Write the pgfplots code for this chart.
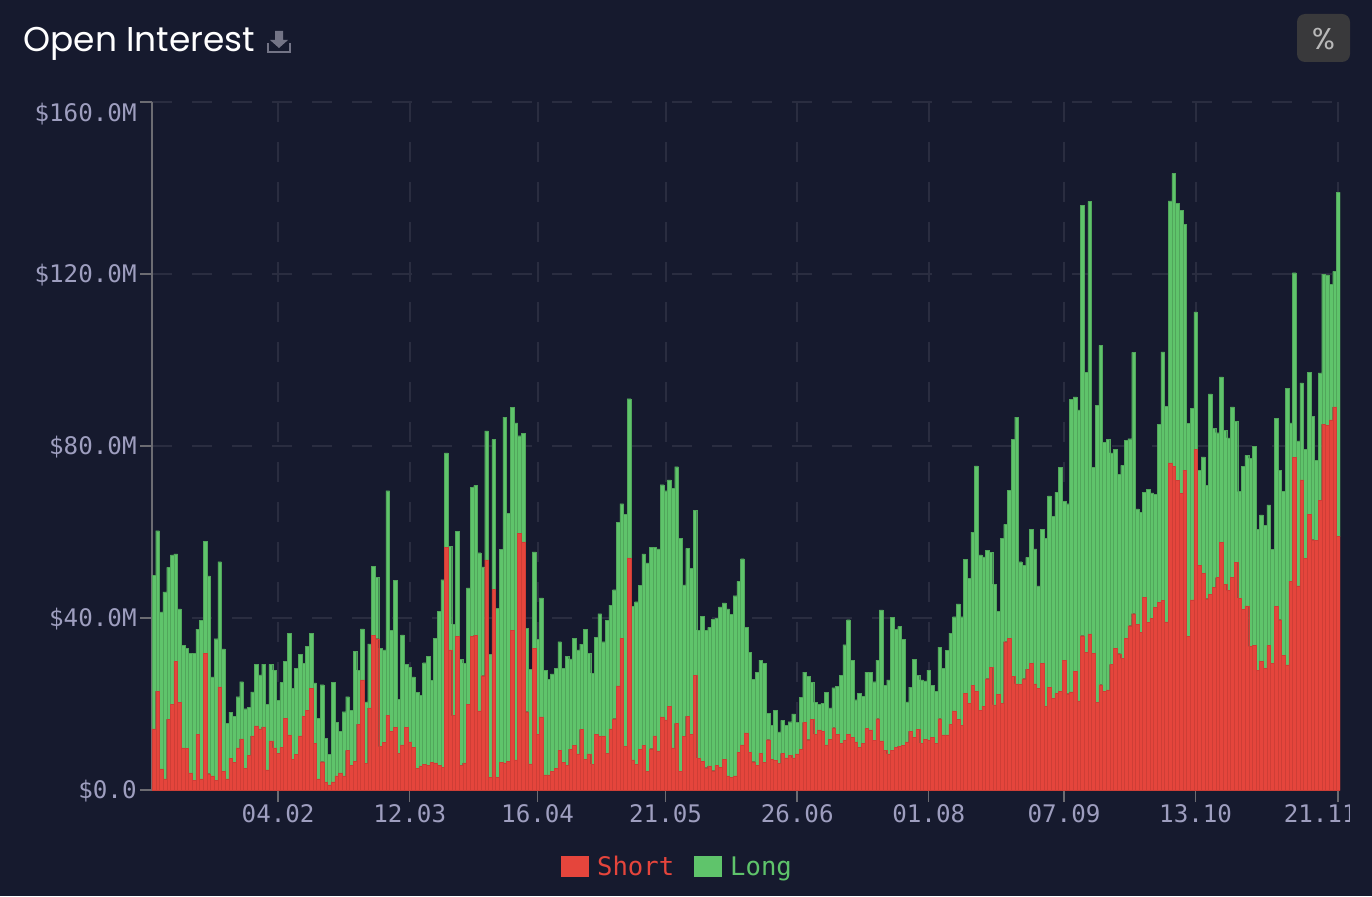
\documentclass[border=0pt]{standalone}
\usepackage{fontspec}
\usepackage{pgfplots}
\usepackage{pgfplotstable}
\pgfplotsset{compat=1.18}
\newfontfamily\monofnt{DejaVu Sans Mono}
\newfontfamily\titlefnt{Poppins}
\definecolor{bg}{HTML}{161A2E}
\definecolor{shortc}{HTML}{E5453C}
\definecolor{longc}{HTML}{5FC46B}
\definecolor{labelc}{HTML}{9E9EBF}
\definecolor{gridc}{HTML}{2A2D40}
\definecolor{axisc}{HTML}{6C6C72}
\definecolor{iconc}{HTML}{737486}
\definecolor{btnc}{HTML}{39393B}
% day index, short, long ($M)
\pgfplotstableread{
i s l
0 14.2 35.7
1 23.0 37.3
2 4.9 36.5
3 2.6 43.5
4 16.5 35.3
5 20.0 34.7
6 30.0 24.9
7 20.4 21.7
8 9.8 23.8
9 9.7 23.3
10 4.0 27.8
11 2.2 29.6
12 12.9 24.5
13 2.6 36.8
14 31.8 26.0
15 3.8 46.0
16 3.3 23.0
17 2.3 32.9
18 24.0 29.1
19 4.4 28.4
20 2.6 12.9
21 7.4 10.7
22 6.5 10.6
23 9.8 11.9
24 11.9 13.3
25 5.0 13.9
26 8.0 11.2
27 12.6 10.2
28 14.9 14.3
29 14.2 12.6
30 14.7 14.6
31 4.7 15.3
32 11.4 17.8
33 9.8 18.1
34 8.5 12.4
35 10.0 15.0
36 16.7 13.3
37 12.8 23.6
38 7.2 16.5
39 8.3 20.0
40 12.6 18.9
41 17.1 12.4
42 18.5 14.9
43 23.7 12.8
44 10.9 14.0
45 2.6 14.1
46 6.6 17.9
47 1.9 10.1
48 1.2 7.1
49 1.9 23.2
50 3.3 12.5
51 4.0 9.6
52 3.3 14.9
53 9.2 12.5
54 5.7 12.9
55 6.7 25.5
56 15.3 12.6
57 25.6 11.9
58 6.2 14.3
59 19.1 14.9
60 36.0 16.0
61 35.2 14.3
62 10.1 22.9
63 11.1 21.5
64 17.4 52.2
65 13.6 23.5
66 14.6 34.2
67 8.5 12.6
68 10.5 25.6
69 14.6 14.6
70 11.2 17.4
71 10.0 16.3
72 5.0 17.7
73 5.6 16.4
74 6.0 23.6
75 5.7 25.4
76 6.4 19.1
77 6.3 29.0
78 5.7 35.9
79 5.3 43.6
80 56.4 22.0
81 32.6 24.1
82 17.3 21.3
83 35.8 24.3
84 5.7 24.7
85 6.3 23.2
86 20.0 27.0
87 35.8 34.6
88 36.0 34.8
89 18.4 36.8
90 26.6 25.3
91 53.5 30.0
92 2.9 28.7
93 46.7 34.8
94 3.0 39.3
95 6.5 49.5
96 6.3 80.4
97 6.7 57.7
98 37.2 51.8
99 7.0 78.4
100 59.7 22.7
101 57.7 25.2
102 18.2 19.4
103 6.1 21.9
104 32.9 22.5
105 12.9 22.2
106 17.0 27.7
107 3.5 24.3
108 3.5 22.2
109 4.4 22.6
110 5.1 23.2
111 9.3 25.2
112 6.4 21.9
113 5.8 25.3
114 9.5 21.0
115 10.4 24.9
116 8.4 24.2
117 14.1 19.8
118 7.2 30.2
119 8.4 23.4
120 6.0 21.2
121 13.0 22.5
122 12.5 28.5
123 12.6 21.9
124 8.6 30.9
125 14.2 28.8
126 16.6 30.0
127 24.2 38.1
128 35.3 31.3
129 10.1 54.0
130 54.0 37.0
131 7.0 35.7
132 6.0 37.8
133 9.4 38.2
134 10.4 44.5
135 4.3 48.5
136 9.6 46.8
137 12.6 43.8
138 9.1 47.0
139 17.0 54.0
140 16.3 53.3
141 19.5 52.6
142 9.8 60.3
143 15.5 59.7
144 4.4 54.1
145 12.5 35.2
146 17.2 39.0
147 12.9 38.6
148 26.7 38.4
149 7.4 29.8
150 6.7 33.7
151 5.2 31.9
152 5.6 32.2
153 4.5 35.2
154 5.7 34.3
155 5.3 37.3
156 7.1 36.4
157 3.3 38.8
158 2.9 38.0
159 3.3 41.9
160 8.8 39.7
161 10.5 43.3
162 13.3 24.6
163 8.8 23.2
164 6.6 19.1
165 5.8 21.6
166 8.6 21.6
167 6.4 23.1
168 11.7 6.2
169 7.1 8.0
170 6.9 11.6
171 6.2 7.3
172 8.5 7.7
173 7.5 7.6
174 8.1 7.8
175 7.5 10.2
176 8.4 7.4
177 9.4 12.2
178 15.7 11.7
179 11.7 14.7
180 16.4 8.7
181 13.0 7.4
182 14.0 5.9
183 13.7 6.5
184 10.5 12.2
185 11.8 7.3
186 14.5 9.3
187 12.9 11.2
188 10.8 15.9
189 11.6 22.2
190 12.9 26.7
191 12.3 17.9
192 11.2 9.8
193 10.0 12.5
194 10.9 10.9
195 14.3 13.1
196 14.0 13.3
197 11.6 13.6
198 16.6 13.6
199 11.4 30.5
200 9.3 15.0
201 8.4 17.2
202 9.3 30.9
203 9.9 27.5
204 10.2 27.8
205 10.4 24.7
206 11.2 9.3
207 13.7 10.2
208 12.3 18.1
209 14.1 12.6
210 10.9 14.7
211 11.8 13.6
212 11.5 16.4
213 12.2 12.2
214 10.8 12.2
215 16.6 16.6
216 12.8 15.5
217 12.8 19.7
218 15.3 21.2
219 18.4 21.9
220 16.4 26.9
221 15.0 25.3
222 22.5 31.2
223 20.1 29.1
224 24.4 35.6
225 22.9 52.5
226 18.6 36.1
227 19.5 34.7
228 25.9 29.9
229 28.6 26.7
230 19.8 28.1
231 22.3 19.2
232 20.1 38.4
233 34.5 27.3
234 35.3 34.4
235 26.4 55.1
236 24.7 62.0
237 24.6 28.5
238 25.9 26.4
239 28.1 26.0
240 29.4 31.2
241 24.7 31.4
242 23.6 23.9
243 29.4 31.2
244 19.5 39.1
245 23.9 44.5
246 21.3 42.3
247 22.5 46.7
248 22.9 52.2
249 30.2 37.0
250 22.4 44.2
251 22.8 68.0
252 27.6 63.8
253 20.7 67.7
254 35.9 100.1
255 32.0 65.1
256 36.3 100.6
257 31.8 43.3
258 20.4 69.1
259 24.5 78.9
260 23.0 57.9
261 23.3 58.3
262 29.2 49.2
263 32.9 46.3
264 31.7 41.7
265 30.6 44.9
266 35.3 46.0
267 38.2 43.5
268 41.0 60.8
269 38.5 26.9
270 36.7 27.9
271 44.8 24.4
272 39.0 31.0
273 40.0 29.1
274 42.5 26.2
275 43.6 41.4
276 44.1 57.8
277 39.1 50.2
278 76.1 60.9
279 75.3 68.1
280 72.0 64.5
281 69.0 65.8
282 74.4 57.1
283 35.8 49.5
284 44.2 44.6
285 79.2 32.0
286 52.2 22.2
287 50.4 27.1
288 44.5 26.4
289 45.5 46.6
290 47.1 37.0
291 49.4 33.7
292 57.6 38.5
293 47.8 35.9
294 46.4 35.5
295 49.4 39.7
296 52.9 32.9
297 44.6 24.8
298 42.0 33.3
299 42.8 35.0
300 33.4 43.7
301 33.6 46.4
302 27.9 32.7
303 30.0 34.0
304 28.3 33.3
305 33.6 32.7
306 29.5 26.5
307 42.7 43.8
308 39.6 34.7
309 31.3 38.1
310 29.1 64.3
311 48.6 36.8
312 77.4 42.9
313 47.5 33.7
314 72.1 22.6
315 53.9 25.4
316 64.1 33.0
317 58.2 28.7
318 58.1 18.6
319 67.3 29.7
320 85.1 34.9
321 84.8 35.0
322 86.1 31.5
323 89.1 31.5
324 59.0 80.0
}\oidata
\begin{document}
\begin{tikzpicture}
\useasboundingbox (0,0) rectangle (686pt,448pt);
\fill[bg] (0,0) rectangle (686pt,448pt);
\begin{axis}[
    at={(76pt,53pt)}, anchor=south west,
    scale only axis, width=594pt, height=344pt,
    ybar stacked, bar width=1,
    xmin=-0.5, xmax=324.5, ymin=0, ymax=160,
    axis lines=left,
    axis line style={draw=axisc, line width=0.7pt, -},
    tick style={draw=axisc, line width=0.7pt},
    tick align=outside, major tick length=6pt,
    xtick={34,70,105,140,176,212,249,285,324},
    xticklabels={04.02,12.03,16.04,21.05,26.06,01.08,07.09,13.10,21.11\hspace*{18pt}},
    ytick={0,40,80,120,160},
    yticklabels={\$0.0,\$40.0M,\$80.0M,\$120.0M,\raisebox{-5.5pt}[0pt][0pt]{\$160.0M}},
    ticklabel style={font=\monofnt\fontsize{12.1}{14}\selectfont, text=labelc},
    yticklabel style={text height=8.8pt, text depth=0pt, inner xsep=1.5pt, anchor=east},
    xticklabel style={yshift=2.5pt},
    grid=major,
    x grid style={draw=gridc, line width=1pt, dash pattern=on 10pt off 10pt, dash phase=6pt},
    y grid style={draw=gridc, line width=1pt, dash pattern=on 10pt off 10pt},
    legend style={at={(0.4432,-0.1125)}, anchor=center, draw=none, fill=none, inner sep=0pt,
        legend columns=2, font=\monofnt\fontsize{12.8}{15}\selectfont,
        /tikz/every even column/.append style={column sep=8pt}},
    legend image code/.code={\fill[#1,draw=none] (0pt,-4.75pt) rectangle (14pt,5.75pt);},
]
\addplot[fill=shortc, draw=shortc!90!black, line width=0.12pt] table[x=i, y=s] {\oidata};
\addlegendentry{\hspace*{2pt}\textcolor{shortc}{Short}}
\addplot[fill=longc, draw=longc!85!black, line width=0.12pt] table[x=i, y=l] {\oidata};
\addlegendentry{\hspace*{2pt}\textcolor{longc}{Long}}
\end{axis}
\begin{scope}[x=0.5pt, y=-0.5pt, yshift=448pt]
% cut off the last tick label as the page does
\fill[bg] (1350,803) rectangle (1372,835);
\node[anchor=base west, inner sep=0pt, text=white, font=\titlefnt\fontsize{17.2}{20}\selectfont] at (23,52) {Open Interest};
% download icon
\fill[iconc] (275,31) rectangle (283,40) -- (288,40) -- (279,48) -- (270,40) -- (275,40) -- cycle;
\draw[iconc, line width=1.1pt] (268,43) -- (268,52) -- (290,52) -- (290,43);
% percent button
\fill[btnc, rounded corners=4pt] (1297,14) rectangle (1350,62);
\node[text=white!72!black, font=\titlefnt\fontsize{15}{17}\selectfont, inner sep=0pt] at (1323.5,39) {\%};
\end{scope}
\end{tikzpicture}
\end{document}
